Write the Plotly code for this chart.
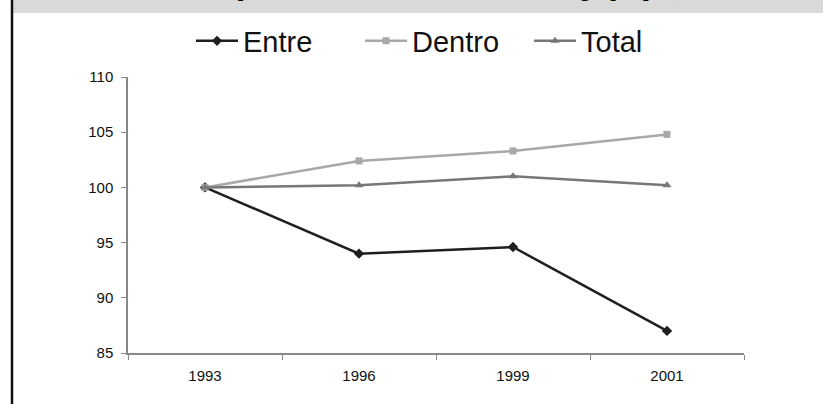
import plotly.graph_objects as go

years = ["1993", "1996", "1999", "2001"]
entre = [100.0, 94.0, 94.6, 87.0]
dentro = [100.0, 102.4, 103.3, 104.8]
total = [100.0, 100.2, 101.0, 100.2]
y_ticks = [85, 90, 95, 100, 105, 110]
title_text = "Descomposición del índice de Theil intra e inter grupo (p.c.)"

W, H = 823, 404
L, R, T, B = 128, 79, 77, 51
pw, ph = W - L - R, H - T - B

def px(xp):
    return (xp - L) / pw

def py(yp):
    return (H - B - yp) / ph

fig = go.Figure()
fig.add_trace(go.Scatter(x=years, y=entre, name="Entre", mode="lines+markers",
                         line=dict(color="#1f1f1f", width=2.5),
                         marker=dict(symbol="diamond", size=8, color="#1f1f1f")))
fig.add_trace(go.Scatter(x=years, y=dentro, name="Dentro", mode="lines+markers",
                         line=dict(color="#a8a8a8", width=2.5),
                         marker=dict(symbol="square", size=7, color="#a8a8a8")))
fig.add_trace(go.Scatter(x=years, y=total, name="Total", mode="lines+markers",
                         line=dict(color="#777777", width=2.5),
                         marker=dict(symbol="triangle-up", size=8, color="#777777")))

fig.update_layout(
    width=W, height=H,
    margin=dict(l=L, r=R, t=T, b=B, pad=0),
    paper_bgcolor="white", plot_bgcolor="white",
    font=dict(family="Liberation Sans, Arial, sans-serif", color="#111111", size=15),
    showlegend=True,
    legend=dict(orientation="h", x=px(191), xanchor="left", y=py(41), yanchor="middle",
                font=dict(size=29, color="#111111"), bgcolor="rgba(0,0,0,0)",
                itemwidth=42,
                entrywidth=112, entrywidthmode="pixels", tracegroupgap=0),
    xaxis=dict(type="category", range=[-0.5, 3.5], showgrid=False, zeroline=False,
               showline=True, linecolor="#888888", linewidth=1.5,
               ticks="outside", tickson="boundaries", ticklen=5, tickcolor="#888888",
               ticklabelstandoff=8,
               tickfont=dict(size=15, color="#111111")),
    yaxis=dict(range=[85, 110], tickvals=y_ticks, showgrid=False, zeroline=False,
               showline=True, linecolor="#888888", linewidth=1.5,
               ticks="outside", ticklen=5, tickcolor="#888888",
               ticklabelstandoff=5,
               tickfont=dict(size=15, color="#111111")),
    shapes=[
        dict(type="rect", xref="paper", yref="paper", x0=px(13), x1=px(823), y0=py(13), y1=py(-2),
             fillcolor="#d9d9d9", line=dict(width=0), layer="below"),
        dict(type="line", xref="paper", yref="paper", x0=px(12), x1=px(12), y0=py(-2), y1=py(406),
             line=dict(color="#111111", width=2.5)),
    ],
    annotations=[
        dict(text="<b>" + title_text + "</b>", xref="paper", yref="paper",
             x=px(425), y=py(3), xanchor="center", yanchor="bottom", showarrow=False,
             font=dict(family="Liberation Serif, Times New Roman, serif", size=20, color="#000000")),
    ],
)

fig.write_html("out.html", config={"displayModeBar": False},
               post_script="document.body.style.margin='0';")
